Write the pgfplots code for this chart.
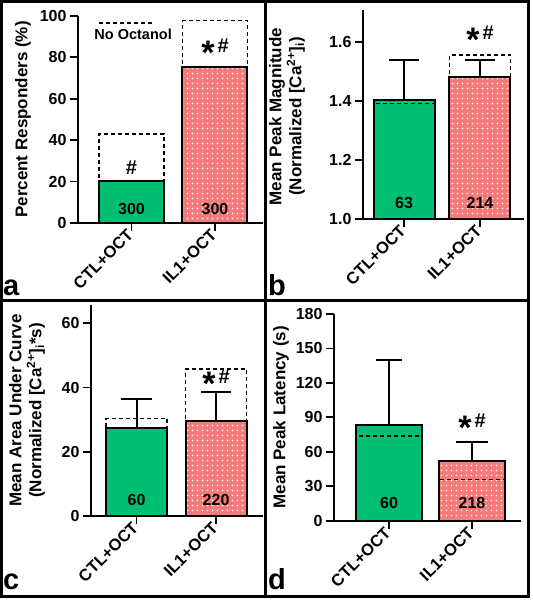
\documentclass[border=0pt]{standalone}
\usepackage{pgfplots}
\pgfplotsset{compat=1.18}
\usepackage{fontspec}
\setmainfont{Liberation Sans}
\usetikzlibrary{patterns.meta}
\definecolor{ctlgreen}{HTML}{00BF73}
\definecolor{ilpink}{HTML}{F57A7A}
\tikzdeclarepattern{name=wdots, type=uncolored,
  bounding box={(-2.7pt,-2.7pt) and (2.7pt,2.7pt)},
  tile size={(5.4pt,5.4pt)},
  code={\fill (0pt,0pt) circle (0.95pt);}}
\newcommand{\fs}[1]{\fontsize{#1}{#1}\selectfont}
\newcommand{\starhash}{\raisebox{-12pt}{\fs{34}*}\kern3pt\#}
\pgfplotsset{
  panel/.style={
    scale only axis, axis lines=left,
    axis line style={line width=1.8pt,-},
    every tick/.style={line width=1.8pt,black},
    tick align=outside, major tick length=8pt,
    xtick={0,1}, xticklabels={CTL+OCT,IL1+OCT},
    x tick label style={rotate=45,anchor=east,font=\bfseries\fs{16.5},inner sep=1.5pt},
    y tick label style={font=\bfseries\fs{16}},
    /pgf/number format/assume math mode=true,
    ylabel style={font=\bfseries\fontsize{17}{20}\selectfont, align=center},
    clip=true, clip mode=individual, minor tick num=0,
  },
  ctlbar/.style={ybar, bar width=#1, fill=ctlgreen, draw=black, line width=2pt},
  ilbar/.style={ybar, bar width=#1, fill=ilpink, draw=black, line width=2pt,
    postaction={pattern=wdots, pattern color=white}},
  outbar/.style={ybar, bar width=#1, fill=none, draw=black, line width=2pt},
  dashbar/.style={ybar, bar width=#1, fill=none, draw=black, line width=1.3pt, dash pattern=on 4pt off 3pt},
  err/.style={black, line width=2pt, mark=none, forget plot},
}
\begin{document}
\begin{tikzpicture}
% ---------- panel a ----------
\begin{axis}[panel, at={(78pt,378pt)}, anchor=south west, width=185pt, height=207pt,
  xmin=-0.64, xmax=1.575, ymin=0, ymax=100, ytick={0,20,...,100},
  ylabel={Percent Responders (\%)},
  ylabel style={at={(axis description cs:-0.297,0.5)}, anchor=center}]
\addplot[ctlbar=65pt] coordinates {(0,20.5)};
\addplot[ilbar=65pt] coordinates {(1,75.5)};
\addplot[outbar=65pt] coordinates {(1,75.5)};
\addplot[dashbar=65pt] coordinates {(0,43) (1,97.7)};
\node[font=\bfseries\fs{16}] at (axis cs:0,6.8) {300};
\node[font=\bfseries\fs{16}] at (axis cs:1,6.8) {300};
\node[font=\bfseries\fs{20}] at (axis cs:0,26.5) {\#};
\node[font=\bfseries\fs{20}] at (axis cs:1,82.6) {\starhash};
\draw[line width=1.3pt, dash pattern=on 4pt off 3pt] (axis cs:-0.39,96.6) -- (axis cs:0.25,96.6);
\node[font=\bfseries\fs{14.5}] at (axis cs:0.02,91.3) {No Octanol};
\end{axis}
% ---------- panel b ----------
\begin{axis}[panel, at={(363pt,382pt)}, anchor=south west, width=161pt, height=209pt,
  xmin=-0.54, xmax=1.58, ymin=1, ymax=1.708, ytick={1,1.2,1.4,1.6},
  yticklabel style={/pgf/number format/.cd, fixed, fixed zerofill, precision=1},
  ylabel={Mean Peak Magnitude\\(Normalized [Ca\textsuperscript{2+}]\textsubscript{i})},
  ylabel style={at={(axis description cs:-0.472,0.49)}, anchor=center}]
\addplot[ctlbar=61pt] coordinates {(0,1.403)};
\addplot[ilbar=61pt] coordinates {(1,1.480)};
\addplot[outbar=61pt] coordinates {(1,1.480)};
\addplot[dashbar=61pt] coordinates {(0,1.392) (1,1.556)};
\addplot[err] coordinates {(0,1.403) (0,1.538)};
\addplot[err] coordinates {(-0.2,1.538) (0.2,1.538)};
\addplot[err] coordinates {(1,1.480) (1,1.538)};
\addplot[err] coordinates {(0.8,1.538) (1.2,1.538)};
\node[font=\bfseries\fs{16}] at (axis cs:0,1.054) {63};
\node[font=\bfseries\fs{16}] at (axis cs:1,1.054) {214};
\node[font=\bfseries\fs{20}] at (axis cs:1,1.61) {\starhash};
\end{axis}
% ---------- panel c ----------
\begin{axis}[panel, at={(91pt,85pt)}, anchor=south west, width=172pt, height=211pt,
  xmin=-0.572, xmax=1.59, ymin=0, ymax=65.7, ytick={0,20,40,60},
  ylabel={Mean Area Under Curve\\(Normalized [Ca\textsuperscript{2+}]\textsubscript{i}*s)},
  ylabel style={at={(axis description cs:-0.372,0.5)}, anchor=center}]
\addplot[ctlbar=61pt] coordinates {(0,27.3)};
\addplot[ilbar=61pt] coordinates {(1,29.7)};
\addplot[outbar=61pt] coordinates {(1,29.7)};
\addplot[dashbar=61pt] coordinates {(0,30.4) (1,45.8)};
\addplot[err] coordinates {(0,27.3) (0,36.3)};
\addplot[err] coordinates {(-0.19,36.3) (0.19,36.3)};
\addplot[err] coordinates {(1,29.7) (1,38.5)};
\addplot[err] coordinates {(0.81,38.5) (1.19,38.5)};
\node[font=\bfseries\fs{16}] at (axis cs:0,5) {60};
\node[font=\bfseries\fs{16}] at (axis cs:1,5) {220};
\node[font=\bfseries\fs{20}] at (axis cs:1,41.4) {\starhash};
\end{axis}
% ---------- panel d ----------
\begin{axis}[panel, at={(334pt,80.3pt)}, anchor=south west, width=187pt, height=206.7pt,
  xmin=-0.663, xmax=1.59, ymin=0, ymax=180, ytick={0,30,...,180},
  ylabel={Mean Peak Latency (s)},
  ylabel style={at={(axis description cs:-0.283,0.5)}, anchor=center}]
\addplot[ctlbar=66pt] coordinates {(0,83.3)};
\addplot[ilbar=66pt] coordinates {(1,52)};
\addplot[outbar=66pt] coordinates {(1,52)};
\addplot[dashbar=66pt] coordinates {(0,73.8) (1,36)};
\addplot[err] coordinates {(0,83.3) (0,140)};
\addplot[err] coordinates {(-0.16,140) (0.16,140)};
\addplot[err] coordinates {(1,52) (1,68.8)};
\addplot[err] coordinates {(0.81,68.8) (1.19,68.8)};
\node[font=\bfseries\fs{16}] at (axis cs:0,15.4) {60};
\node[font=\bfseries\fs{16}] at (axis cs:1,15.4) {218};
\node[font=\bfseries\fs{20}] at (axis cs:1,81.9) {\starhash};
\end{axis}
% ---------- panel frames and letters ----------
\draw[line width=3pt] (1.5pt,4.5pt) rectangle (528.5pt,599.5pt);
\draw[line width=3pt] (265.5pt,4.5pt) -- (265.5pt,599.5pt);
\draw[line width=3pt] (1.5pt,300.5pt) -- (528.5pt,300.5pt);
\node[anchor=base west, inner sep=0pt, font=\bfseries\fs{29}] at (3pt,305pt) {a};
\node[anchor=base west, inner sep=0pt, font=\bfseries\fs{29}] at (268pt,305pt) {b};
\node[anchor=base west, inner sep=0pt, font=\bfseries\fs{29}] at (3pt,11pt) {c};
\node[anchor=base west, inner sep=0pt, font=\bfseries\fs{29}] at (268pt,11pt) {d};
\pgfresetboundingbox
\useasboundingbox (0pt,0pt) rectangle (532pt,601pt);
\end{tikzpicture}
\end{document}
